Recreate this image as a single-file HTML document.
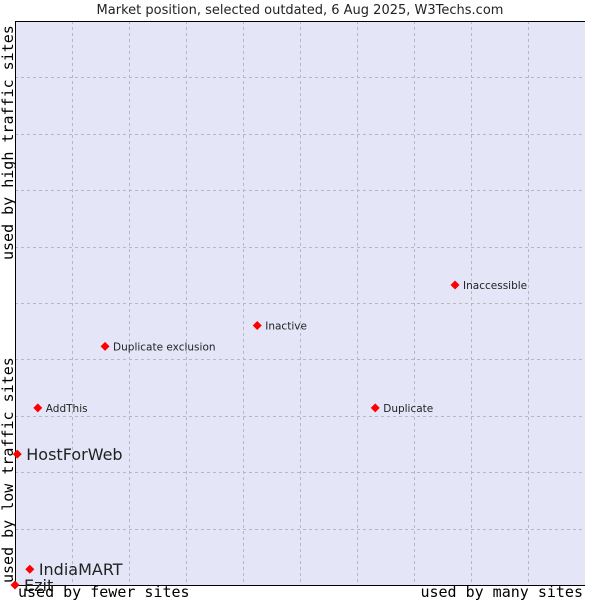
<!DOCTYPE html>
<html><head><meta charset="utf-8"><style>
body{margin:0;background:#fff;}
svg text{font-family:"DejaVu Sans","Liberation Sans",sans-serif;}
.mono{font-family:"DejaVu Sans Mono","Liberation Mono",monospace !important;}
</style></head><body>
<svg id="chart" width="600" height="600" viewBox="0 0 600 600" xmlns="http://www.w3.org/2000/svg">
<text x="300" y="14" text-anchor="middle" font-size="13" fill="#222">Market position, selected outdated, 6 Aug 2025, W3Techs.com</text>
<rect x="15" y="21" width="570" height="564" fill="#e4e6f8" stroke="none"/>
<g id="grid"></g>
<line x1="15.5" y1="21" x2="15.5" y2="585" stroke="#000"/>
<line x1="15" y1="585.5" x2="585" y2="585.5" stroke="#000"/>
<line x1="15" y1="21.5" x2="585" y2="21.5" stroke="#000"/>
<g id="points"></g>
<text class="mono" x="18" y="597" font-size="15" fill="#000">used by fewer sites</text>
<text class="mono" x="583" y="597" text-anchor="end" font-size="15" fill="#000">used by many sites</text>
<text class="mono" transform="translate(13,583) rotate(-90)" font-size="15" fill="#000">used by low traffic sites</text>
<text class="mono" transform="translate(13,260) rotate(-90)" font-size="15" fill="#000">used by high traffic sites</text>
</svg>
<script>
const names=["Ezit","IndiaMART","HostForWeb","AddThis","Duplicate exclusion","Inactive","Duplicate","Inaccessible"];
const xValues=[0,2.6,0.4,4.0,15.8,42.5,63.2,77.2];
const yValues=[0,2.8,23.2,31.4,42.3,46.0,31.4,53.2];
const bigLabel=[true,true,true,false,false,false,false,false];
const X0=15,X1=585,Y0=585,Y1=21;
function sx(v){return X0+v/100*(X1-X0);}
function sy(v){return Y0-v/100*(Y0-Y1);}
const NS="http://www.w3.org/2000/svg";
const grid=document.getElementById('grid');
for(let i=1;i<10;i++){
  const gx=document.createElementNS(NS,'line');
  
  
  const x=Math.round(sx(i*10))+0.5;
  gx.setAttribute('x1',x);gx.setAttribute('x2',x);gx.setAttribute('y1',Y1);gx.setAttribute('y2',Y0);
  gx.setAttribute('stroke','#b8b8b8');gx.setAttribute('stroke-dasharray','3,3');
  grid.appendChild(gx);
  const gy=document.createElementNS(NS,'line');
  
  
  const y=Math.round(sy(i*10))+0.5;
  gy.setAttribute('x1',X0);gy.setAttribute('x2',X1);gy.setAttribute('y1',y);gy.setAttribute('y2',y);
  gy.setAttribute('stroke','#b8b8b8');gy.setAttribute('stroke-dasharray','3,3');
  grid.appendChild(gy);
}
const pts=document.getElementById('points');
names.forEach((n,i)=>{
  const x=sx(xValues[i]),y=sy(yValues[i]);
  const d=document.createElementNS(NS,'path');
  
  
  d.setAttribute('d',`M${x},${y-4.5}L${x+4.5},${y}L${x},${y+4.5}L${x-4.5},${y}Z`);
  d.setAttribute('fill','#ff0000');
  pts.appendChild(d);
  const t=document.createElementNS(NS,'text');
  
  
  t.setAttribute('x',x+(bigLabel[i]?9:8));
  t.setAttribute('y',y+(bigLabel[i]?6:4));
  t.setAttribute('font-size',bigLabel[i]?'16':'10.5');
  t.setAttribute('fill','#222');
  t.textContent=n;
  pts.appendChild(t);
});
</script>
</body></html>
